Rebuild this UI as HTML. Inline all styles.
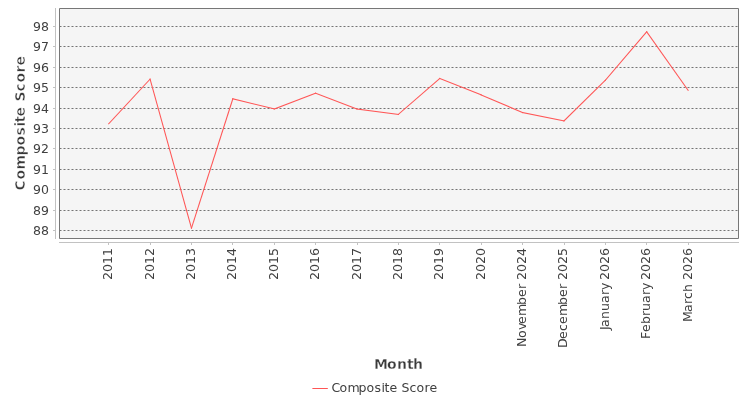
<!DOCTYPE html>
<html><head><meta charset="utf-8"><title>Composite Score</title>
<style>
html,body{margin:0;padding:0;background:#fff;}
svg{display:block;}
text{font-family:"DejaVu Sans","Liberation Sans",sans-serif;fill:#404040;}
.t{font-size:12px;}
.l{font-size:14px;font-weight:bold;fill:#3a3a3a;stroke:#fff;stroke-width:0.3px;}
.r{stroke-width:0.5px;fill:#383838;}
</style></head><body>
<svg width="750" height="400" viewBox="0 0 750 400">
<rect x="0" y="0" width="750" height="400" fill="#ffffff"/>

<rect x="59" y="8" width="680" height="231" fill="#f5f5f5"/>
<line x1="59.5" y1="230.5" x2="738.5" y2="230.5" stroke="#747474" stroke-width="1" stroke-dasharray="2 2"/>
<line x1="59.5" y1="210.5" x2="738.5" y2="210.5" stroke="#747474" stroke-width="1" stroke-dasharray="2 2"/>
<line x1="59.5" y1="189.5" x2="738.5" y2="189.5" stroke="#747474" stroke-width="1" stroke-dasharray="2 2"/>
<line x1="59.5" y1="169.5" x2="738.5" y2="169.5" stroke="#747474" stroke-width="1" stroke-dasharray="2 2"/>
<line x1="59.5" y1="148.5" x2="738.5" y2="148.5" stroke="#747474" stroke-width="1" stroke-dasharray="2 2"/>
<line x1="59.5" y1="128.5" x2="738.5" y2="128.5" stroke="#747474" stroke-width="1" stroke-dasharray="2 2"/>
<line x1="59.5" y1="108.5" x2="738.5" y2="108.5" stroke="#747474" stroke-width="1" stroke-dasharray="2 2"/>
<line x1="59.5" y1="87.5" x2="738.5" y2="87.5" stroke="#747474" stroke-width="1" stroke-dasharray="2 2"/>
<line x1="59.5" y1="67.5" x2="738.5" y2="67.5" stroke="#747474" stroke-width="1" stroke-dasharray="2 2"/>
<line x1="59.5" y1="46.5" x2="738.5" y2="46.5" stroke="#747474" stroke-width="1" stroke-dasharray="2 2"/>
<line x1="59.5" y1="26.5" x2="738.5" y2="26.5" stroke="#747474" stroke-width="1" stroke-dasharray="2 2"/>
<g stroke="#ff5555" stroke-width="1.05" stroke-linecap="square" fill="none">
<line x1="108.69" y1="123.77" x2="150.08" y2="79.14"/>
<line x1="150.08" y1="79.14" x2="191.47" y2="228.06"/>
<line x1="191.47" y1="228.06" x2="232.85" y2="98.75"/>
<line x1="232.85" y1="98.75" x2="274.24" y2="108.97"/>
<line x1="274.24" y1="108.97" x2="315.63" y2="93.17"/>
<line x1="315.63" y1="93.17" x2="357.01" y2="109.07"/>
<line x1="357.01" y1="109.07" x2="398.40" y2="114.37"/>
<line x1="398.40" y1="114.37" x2="439.79" y2="78.37"/>
<line x1="439.79" y1="78.37" x2="481.17" y2="94.89"/>
<line x1="481.17" y1="94.89" x2="522.56" y2="112.53"/>
<line x1="522.56" y1="112.53" x2="563.95" y2="120.91"/>
<line x1="563.95" y1="120.91" x2="605.33" y2="80.33"/>
<line x1="605.33" y1="80.33" x2="646.72" y2="31.80"/>
<line x1="646.72" y1="31.80" x2="688.11" y2="90.31"/>
</g>
<rect x="59" y="8" width="680" height="1" fill="#777777"/>
<rect x="59" y="238" width="680" height="1" fill="#777777"/>
<rect x="59" y="8" width="1" height="231" fill="#777777"/>
<rect x="738" y="8" width="1" height="231" fill="#777777"/>
<rect x="59" y="8" width="1" height="1" fill="#969696"/>
<rect x="738" y="8" width="1" height="1" fill="#969696"/>
<rect x="59" y="238" width="1" height="1" fill="#969696"/>
<rect x="738" y="238" width="1" height="1" fill="#969696"/>
<rect x="55" y="8" width="1" height="231" fill="#c2c2c2"/>
<rect x="59" y="242" width="680" height="1" fill="#c2c2c2"/>
<rect x="53" y="230" width="2" height="1" fill="#c2c2c2"/>
<text class="t" transform="translate(49,235) scale(1.045,1)" x="-15.31 -7.66" y="0">88</text>
<rect x="53" y="210" width="2" height="1" fill="#c2c2c2"/>
<text class="t" transform="translate(49,215) scale(1.045,1)" x="-15.31 -7.66" y="0">89</text>
<rect x="53" y="189" width="2" height="1" fill="#c2c2c2"/>
<text class="t" transform="translate(49,194) scale(1.045,1)" x="-15.31 -7.66" y="0">90</text>
<rect x="53" y="169" width="2" height="1" fill="#c2c2c2"/>
<text class="t" transform="translate(49,174) scale(1.045,1)" x="-15.31 -7.66" y="0">91</text>
<rect x="53" y="148" width="2" height="1" fill="#c2c2c2"/>
<text class="t" transform="translate(49,153) scale(1.045,1)" x="-15.31 -7.66" y="0">92</text>
<rect x="53" y="128" width="2" height="1" fill="#c2c2c2"/>
<text class="t" transform="translate(49,133) scale(1.045,1)" x="-15.31 -7.66" y="0">93</text>
<rect x="53" y="108" width="2" height="1" fill="#c2c2c2"/>
<text class="t" transform="translate(49,113) scale(1.045,1)" x="-15.31 -7.66" y="0">94</text>
<rect x="53" y="87" width="2" height="1" fill="#c2c2c2"/>
<text class="t" transform="translate(49,92) scale(1.045,1)" x="-15.31 -7.66" y="0">95</text>
<rect x="53" y="67" width="2" height="1" fill="#c2c2c2"/>
<text class="t" transform="translate(49,72) scale(1.045,1)" x="-15.31 -7.66" y="0">96</text>
<rect x="53" y="46" width="2" height="1" fill="#c2c2c2"/>
<text class="t" transform="translate(49,51) scale(1.045,1)" x="-15.31 -7.66" y="0">97</text>
<rect x="53" y="26" width="2" height="1" fill="#c2c2c2"/>
<text class="t" transform="translate(49,31) scale(1.045,1)" x="-15.31 -7.66" y="0">98</text>
<rect x="108" y="243" width="1" height="2" fill="#c2c2c2"/>
<text class="t" transform="translate(112.19,248) rotate(-90) scale(1.045,1)" x="-30.62 -22.97 -15.31 -7.66" y="0">2011</text>
<rect x="150" y="243" width="1" height="2" fill="#c2c2c2"/>
<text class="t" transform="translate(153.58,248) rotate(-90) scale(1.045,1)" x="-30.62 -22.97 -15.31 -7.66" y="0">2012</text>
<rect x="191" y="243" width="1" height="2" fill="#c2c2c2"/>
<text class="t" transform="translate(194.97,248) rotate(-90) scale(1.045,1)" x="-30.62 -22.97 -15.31 -7.66" y="0">2013</text>
<rect x="232" y="243" width="1" height="2" fill="#c2c2c2"/>
<text class="t" transform="translate(236.35,248) rotate(-90) scale(1.045,1)" x="-30.62 -22.97 -15.31 -7.66" y="0">2014</text>
<rect x="274" y="243" width="1" height="2" fill="#c2c2c2"/>
<text class="t" transform="translate(277.74,248) rotate(-90) scale(1.045,1)" x="-30.62 -22.97 -15.31 -7.66" y="0">2015</text>
<rect x="315" y="243" width="1" height="2" fill="#c2c2c2"/>
<text class="t" transform="translate(319.13,248) rotate(-90) scale(1.045,1)" x="-30.62 -22.97 -15.31 -7.66" y="0">2016</text>
<rect x="357" y="243" width="1" height="2" fill="#c2c2c2"/>
<text class="t" transform="translate(360.51,248) rotate(-90) scale(1.045,1)" x="-30.62 -22.97 -15.31 -7.66" y="0">2017</text>
<rect x="398" y="243" width="1" height="2" fill="#c2c2c2"/>
<text class="t" transform="translate(401.9,248) rotate(-90) scale(1.045,1)" x="-30.62 -22.97 -15.31 -7.66" y="0">2018</text>
<rect x="439" y="243" width="1" height="2" fill="#c2c2c2"/>
<text class="t" transform="translate(443.29,248) rotate(-90) scale(1.045,1)" x="-30.62 -22.97 -15.31 -7.66" y="0">2019</text>
<rect x="481" y="243" width="1" height="2" fill="#c2c2c2"/>
<text class="t" transform="translate(484.67,248) rotate(-90) scale(1.045,1)" x="-30.62 -22.97 -15.31 -7.66" y="0">2020</text>
<rect x="522" y="243" width="1" height="2" fill="#c2c2c2"/>
<text class="t" transform="translate(526.06,248) rotate(-90) scale(1.045,1)" x="-94.74 -86.12 -78.47 -72.73 -65.07 -54.55 -46.89 -39.23 -34.45 -30.62 -22.97 -15.31 -7.66" y="0">November 2024</text>
<rect x="564" y="243" width="1" height="2" fill="#c2c2c2"/>
<text class="t" transform="translate(567.45,248) rotate(-90) scale(1.045,1)" x="-95.69 -87.08 -79.43 -72.73 -65.07 -54.55 -46.89 -39.23 -34.45 -30.62 -22.97 -15.31 -7.66" y="0">December 2025</text>
<rect x="605" y="243" width="1" height="2" fill="#c2c2c2"/>
<text class="t" transform="translate(608.83,248) rotate(-90) scale(1.045,1)" x="-78.47 -75.6 -67.94 -60.29 -52.63 -44.98 -40.19 -34.45 -30.62 -22.97 -15.31 -7.66" y="0">January 2026</text>
<rect x="646" y="243" width="1" height="2" fill="#c2c2c2"/>
<text class="t" transform="translate(650.22,248) rotate(-90) scale(1.045,1)" x="-87.08 -80.38 -72.73 -65.07 -60.29 -52.63 -44.98 -40.19 -34.45 -30.62 -22.97 -15.31 -7.66" y="0">February 2026</text>
<rect x="688" y="243" width="1" height="2" fill="#c2c2c2"/>
<text class="t" transform="translate(691.61,248) rotate(-90) scale(1.045,1)" x="-70.81 -61.24 -53.59 -48.8 -42.11 -34.45 -30.62 -22.97 -15.31 -7.66" y="0">March 2026</text>
<text class="l r" transform="translate(25,123.1) rotate(-90)" x="-67.5 -56.5 -46.5 -32.5 -22.5 -12.5 -3.5 0.5 6.5 16.5 21.5 31.5 40.5 50.5 57.5" y="0">Composite Score</text>
<text class="l" transform="translate(398.5,369)" x="-24.5 -11.5 -1.5 8.5 14.5" y="0">Month</text>
<line x1="312.4" y1="388.5" x2="327.8" y2="388.5" stroke="#ff5555" stroke-width="1"/>
<text class="t" transform="translate(331.4,392) scale(1.045,1)" x="0 7.66 15.31 25.84 33.49 41.15 47.85 50.72 55.5 63.16 66.99 74.64 81.34 89 93.78" y="0">Composite Score</text>
</svg></body></html>
